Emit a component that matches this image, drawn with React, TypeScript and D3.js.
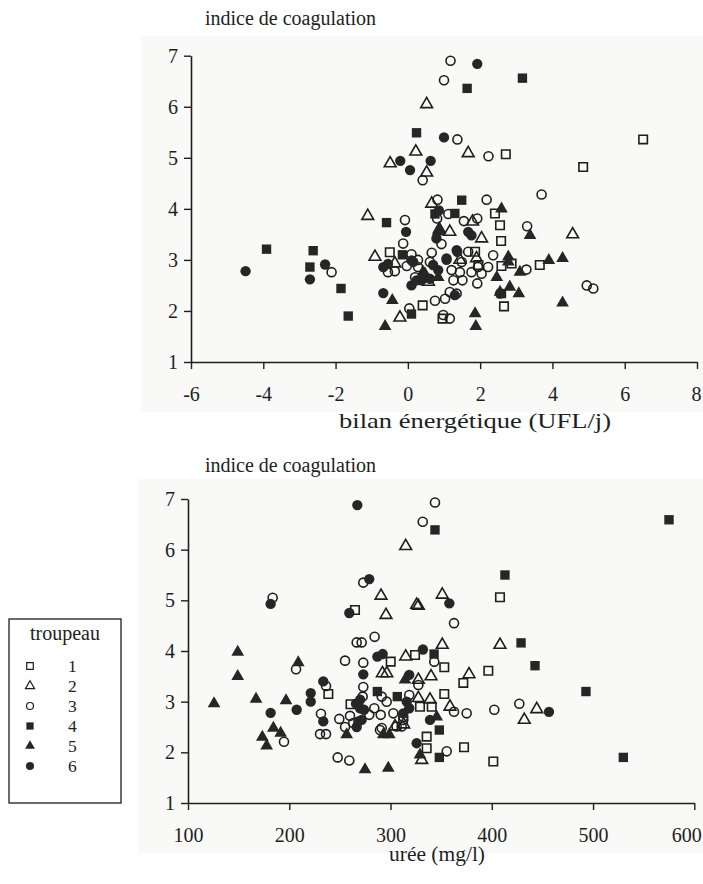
import React, { useEffect, useRef } from 'react';
import * as d3 from 'd3';

// troupeaux (legend entries)
const troupeaux = ['1', '2', '3', '4', '5', '6'];

const indiceTicks = [1, 2, 3, 4, 5, 6, 7];
const bilanTicks = [-6, -4, -2, 0, 2, 4, 6, 8];
const ureeTicks = [100, 200, 300, 400, 500, 600];

// [bilan énergétique (UFL/j), indice de coagulation] per troupeau
const bilan1 = [
  [6.51, 5.36], [4.85, 4.82], [2.71, 5.07], [2.41, 3.91], [2.55, 3.68], [2.58, 3.37], [1.86, 3.16],
  [2.87, 2.93], [2.59, 2.88], [3.65, 2.9], [2.66, 2.09], [0.41, 2.11], [0.96, 1.85], [-0.5, 3.15],
  [1.95, 2.9],
];
const bilan2 = [
  [0.22, 5.12], [-0.49, 4.89], [0.52, 4.71], [0.52, 6.05], [1.67, 5.09], [-1.11, 3.86], [0.66, 4.1],
  [1.16, 3.55], [1.79, 3.75], [2.04, 3.42], [4.56, 3.5], [1.44, 3.0], [1.9, 3.03], [-0.91, 3.06],
  [-0.36, 2.93], [0.57, 2.57], [-0.22, 1.87], [0.87, 3.6],
];
const bilan3 = [
  [1.18, 6.9], [1.0, 6.52], [1.37, 5.36], [2.23, 5.03], [0.41, 4.56], [3.7, 4.28], [0.82, 4.18],
  [2.18, 4.18], [1.12, 3.9], [0.81, 3.81], [1.92, 3.81], [3.3, 3.66], [-0.08, 3.78], [1.55, 3.76],
  [0.93, 3.31], [-0.13, 3.32], [0.1, 3.11], [0.28, 3.0], [-0.36, 2.78], [-0.55, 2.76], [-0.03, 2.88],
  [0.66, 3.14], [0.61, 2.96], [1.67, 3.16], [2.36, 3.09], [2.22, 2.86], [3.28, 2.81], [1.21, 2.8],
  [1.44, 2.76], [1.76, 2.76], [1.94, 2.86], [2.04, 2.73], [0.2, 2.66], [1.26, 2.6], [1.51, 2.6],
  [1.92, 2.54], [1.16, 2.37], [0.75, 2.2], [1.03, 2.24], [0.04, 2.05], [1.16, 1.85], [0.98, 1.92],
  [4.95, 2.5], [5.13, 2.44], [-2.11, 2.76], [1.49, 2.96], [0.28, 2.86], [1.35, 2.34],
];
const bilan4 = [
  [0.24, 5.49], [1.64, 6.36], [3.17, 6.56], [1.49, 4.17], [1.3, 3.91], [0.75, 3.9], [-0.59, 3.73],
  [-0.15, 3.1], [0.1, 1.94], [-3.91, 3.21], [-2.62, 3.18], [-2.71, 2.86], [-1.85, 2.44], [-1.65, 1.9],
  [2.59, 2.34],
];
const bilan5 = [
  [2.59, 4.0], [3.38, 3.48], [0.87, 3.58], [2.78, 3.06], [2.78, 2.96], [3.1, 2.76], [3.9, 2.99],
  [4.28, 3.03], [0.42, 2.76], [0.84, 2.66], [2.46, 2.66], [2.82, 2.47], [3.07, 2.34], [4.28, 2.16],
  [1.86, 1.95], [1.88, 1.7], [-0.43, 2.21], [-0.63, 1.7], [2.55, 2.37], [0.84, 3.55], [0.47, 2.73],
];
const bilan6 = [
  [1.92, 6.84], [1.0, 5.4], [-0.21, 4.94], [0.63, 4.94], [0.06, 4.76], [0.86, 3.97], [-0.05, 3.55],
  [1.67, 3.55], [1.76, 3.48], [0.79, 3.42], [0.1, 2.99], [1.07, 3.03], [1.35, 3.19], [0.7, 2.9],
  [0.84, 2.8], [0.61, 2.63], [0.38, 2.6], [0.1, 2.5], [2.55, 2.34], [1.3, 2.31], [-0.68, 2.35],
  [-4.49, 2.78], [-2.71, 2.62], [-2.29, 2.91], [-0.68, 2.86], [-0.55, 2.92], [0.15, 2.96], [0.24, 2.6],
  [1.37, 3.16], [1.07, 3.0],
];

// [urée (mg/l), indice de coagulation] per troupeau
const uree1 = [
  [264.9, 4.81], [408.1, 5.06], [324.2, 3.92], [300.2, 3.79], [353.1, 3.68], [371.9, 3.37],
  [396.6, 3.61], [353.1, 3.15], [238.6, 3.15], [260.5, 2.95], [329.1, 2.9], [340.7, 2.9],
  [335.7, 2.31], [335.7, 2.08], [372.6, 2.1], [401.5, 1.82],
];
const uree2 = [
  [315, 6.07], [290.6, 5.09], [295.5, 4.71], [325.8, 4.91], [351.1, 5.11], [327.5, 4.89],
  [408.1, 4.12], [351.1, 4.12], [315, 3.89], [292, 3.56], [296.3, 3.56], [340, 3.5], [327.5, 3.43],
  [377.5, 3.54], [327.5, 3.07], [339, 3.04], [358.7, 2.9], [304.4, 2.51], [444.4, 2.85],
  [432.1, 2.64], [330.8, 1.85], [313, 2.55],
];
const uree3 = [
  [343.9, 6.93], [331.8, 6.55], [273.1, 5.35], [183.6, 5.05], [266.6, 4.17], [271.5, 4.17],
  [284.3, 4.28], [362.7, 4.55], [255.1, 3.81], [273.1, 3.77], [343.2, 3.79], [206.7, 3.64],
  [236.3, 3.31], [273.1, 3.29], [327.5, 3.33], [272.5, 3.1], [291.3, 3.1], [318.5, 3.13],
  [296.2, 3.0], [231.3, 2.76], [249.4, 2.66], [255.1, 2.5], [260, 2.72], [263.2, 2.58], [284, 2.87],
  [279, 2.74], [290.3, 2.74], [302.8, 2.77], [289.6, 2.44], [291.3, 2.48], [306, 2.51], [311, 2.51],
  [312.6, 2.64], [362.7, 2.8], [375.2, 2.77], [402.5, 2.84], [427.2, 2.96], [230.4, 2.36],
  [236.3, 2.36], [194.8, 2.21], [247.8, 1.9], [259.3, 1.84], [355.5, 2.02], [312.6, 2.7],
];
const uree4 = [
  [343.9, 6.39], [575, 6.59], [413, 5.5], [428.9, 4.16], [343, 3.94], [442.7, 3.71], [287, 3.2],
  [306.7, 3.1], [493, 3.2], [348.2, 2.44], [348.2, 1.9], [529.9, 1.9],
];
const uree5 = [
  [149.1, 3.98], [149.1, 3.5], [125.7, 2.96], [167.2, 3.05], [208.9, 3.77], [196.8, 3.02],
  [184.3, 2.48], [191.5, 2.38], [173.4, 2.3], [177.7, 2.13], [256.7, 2.35], [292.9, 2.35],
  [298.8, 2.35], [274.8, 1.66], [297.8, 1.69], [314.3, 3.43], [345.6, 2.7], [329.1, 1.95],
];
const uree6 = [
  [267.2, 6.88], [279, 5.42], [181.6, 4.93], [259.3, 4.75], [358.1, 4.94], [287, 3.89],
  [292.3, 3.94], [332, 4.03], [273.1, 3.54], [318.5, 3.53], [181.6, 2.78], [207.3, 2.84],
  [221.2, 3.17], [221.2, 3.0], [233.6, 3.4], [233.6, 2.61], [265.9, 2.96], [269.9, 2.87],
  [266.6, 2.5], [268.2, 2.61], [273.8, 2.84], [316, 3.0], [318.5, 2.87], [339, 2.64], [325.8, 2.18],
  [456.5, 2.8], [312.6, 2.77], [271.5, 2.64], [270, 3.04],
];

const bilanSeries = [bilan1, bilan2, bilan3, bilan4, bilan5, bilan6];
const ureeSeries = [uree1, uree2, uree3, uree4, uree5, uree6];

const FONT = '"Liberation Serif", "DejaVu Serif", serif';
const INK = '#1e1e1e';

const symbolTypes = [d3.symbolSquare, d3.symbolTriangle, d3.symbolCircle, d3.symbolSquare, d3.symbolTriangle, d3.symbolCircle];
const symbolSizes = [72, 60, 64, 88, 70, 84];
const isFilled = [false, false, false, true, true, true];

const marker = (i, scale = 1) => d3.symbol(symbolTypes[i], symbolSizes[i] * scale)();

function Panel({ series, xDomain, xRange, yRange, xTicks, lastDx, title, titleY, xLabel, xLabelX, xLabelY, xLabelSize, xLabelLength }) {
  const xRef = useRef(null);
  const yRef = useRef(null);
  const x = d3.scaleLinear().domain(xDomain).range(xRange);
  const y = d3.scaleLinear().domain([1, 7]).range(yRange);

  useEffect(() => {
    const style = (g) => {
      g.attr('font-family', FONT).attr('font-size', 20);
      g.select('.domain').attr('stroke', INK).attr('stroke-width', 1.6);
      g.selectAll('.tick line').attr('stroke', INK).attr('stroke-width', 1.4);
      g.selectAll('.tick text').attr('fill', INK);
    };
    d3.select(xRef.current)
      .call(d3.axisBottom(x).tickValues(xTicks).tickFormat(d3.format('d')).tickSize(7).tickSizeOuter(0).tickPadding(18))
      .call(style);
    d3.select(yRef.current)
      .call(d3.axisLeft(y).tickValues(indiceTicks).tickFormat(d3.format('d')).tickSize(7).tickSizeOuter(0).tickPadding(6))
      .call(style);
    // plain hyphen for negatives, keep the last label inside the page
    d3.select(xRef.current).selectAll('.tick text')
      .text((d) => (d < 0 ? '-' + Math.abs(d) : String(d)))
      .attr('text-anchor', (d, i, n) => (i === n.length - 1 ? 'end' : 'middle'))
      .attr('dx', (d, i, n) => (i === n.length - 1 ? lastDx : 0));
  }, []);

  return (
    <g>
      <rect x={xRange[0] - 50} y={yRange[1] - 20} width={703 - xRange[0] + 50} height={yRange[0] - yRange[1] + 70} fill="#f9f9f8" />
      <text x={205} y={titleY} fontFamily={FONT} fontSize={20} fill={INK}>{title}</text>
      <g ref={xRef} transform={`translate(0,${yRange[0]})`} />
      <g ref={yRef} transform={`translate(${xRange[0]},0)`} />
      {series.map((pts, i) => (
        <g key={i}>
          {pts.map((p, j) => (
            <path
              key={j}
              d={marker(i)}
              transform={`translate(${x(p[0])},${y(p[1])})`}
              fill={isFilled[i] ? '#262626' : 'none'}
              stroke={isFilled[i] ? 'none' : INK}
              strokeWidth={1.6}
            />
          ))}
        </g>
      ))}
      <text x={xLabelX} y={xLabelY} textAnchor="middle" fontFamily={FONT} fontSize={xLabelSize} fill={INK}
        textLength={xLabelLength} lengthAdjust="spacingAndGlyphs">{xLabel}</text>
    </g>
  );
}

function Legend() {
  const rowY = d3.scalePoint().domain(troupeaux).range([666, 766]);
  return (
    <g fontFamily={FONT} fill={INK}>
      <rect x={9} y={619} width={112} height={184} fill="#fff" stroke={INK} strokeWidth={1.3} />
      <text x={65} y={640} textAnchor="middle" fontSize={20}>troupeau</text>
      {troupeaux.map((t, i) => (
        <g key={t} transform={`translate(0,${rowY(t)})`}>
          <path
            d={marker(i, 0.6)}
            transform="translate(30,0)"
            fill={isFilled[i] ? '#262626' : 'none'}
            stroke={isFilled[i] ? 'none' : INK}
            strokeWidth={1.2}
          />
          <text x={68} y={6} fontSize={17.5}>{t}</text>
        </g>
      ))}
    </g>
  );
}

export default function App() {
  return (
    <svg width={703} height={884} style={{ position: 'absolute', left: 0, top: 0, background: '#fff' }}>
      <Panel
        series={bilanSeries}
        xDomain={[-6, 8]}
        xRange={[191, 697]}
        yRange={[362, 55.7]}
        xTicks={bilanTicks}
        lastDx={4}
        title="indice de coagulation"
        titleY={25}
        xLabel="bilan énergétique (UFL/j)"
        xLabelX={475}
        xLabelY={428}
        xLabelSize={21}
        xLabelLength={272}
      />
      <Panel
        series={ureeSeries}
        xDomain={[100, 600]}
        xRange={[188, 694.3]}
        yRange={[803, 499]}
        xTicks={ureeTicks}
        lastDx={7}
        title="indice de coagulation"
        titleY={472}
        xLabel="urée (mg/l)"
        xLabelX={437}
        xLabelY={861}
        xLabelSize={20}
        xLabelLength={96}
      />
      <Legend />
    </svg>
  );
}
